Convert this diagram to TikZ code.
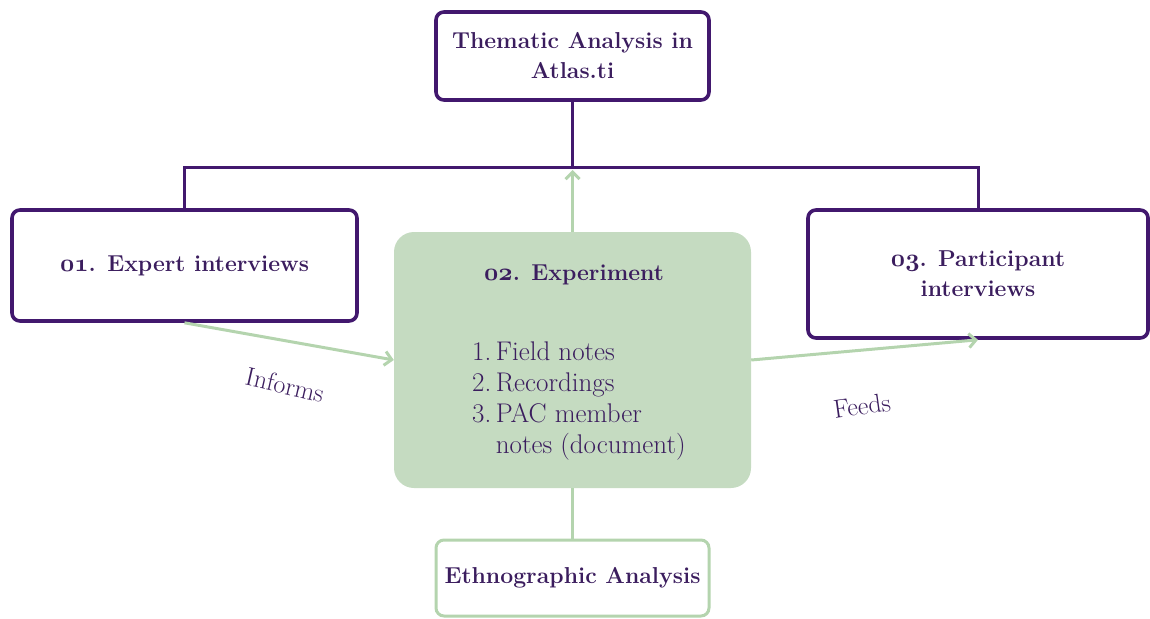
\documentclass[tikz,border=0pt]{standalone}
\usetikzlibrary{arrows.meta}
\definecolor{purp}{RGB}{66,24,110}
\definecolor{purptext}{RGB}{59,29,94}
\definecolor{sage}{RGB}{197,219,193}
\definecolor{sageline}{RGB}{180,212,174}
\newcommand{\bnum}[1]{{\boldmath$\mathnormal{#1}$}}
\begin{document}
\begin{tikzpicture}
[x=1pt,y=-1pt,%
  every node/.style={text=purptext,align=center,inner sep=0pt},%
  purplebox/.style={draw=purp,line width=3.6pt,rounded corners=8pt,fill=white},%
  linkline/.style={draw=purp,line width=3pt},%
  greenline/.style={draw=sageline,line width=3pt},%
  greenarrow/.style={greenline,-{Straight Barb[length=7pt,width=14pt]}},%
  headfont/.style={font=\fontsize{23}{30}\selectfont\bfseries},%
  bodyfont/.style={font=\fontsize{27}{31}\selectfont},%
  labelfont/.style={font=\fontsize{26}{28}\selectfont}]
\useasboundingbox (0,0) rectangle (1150,618);
% boxes
\node[purplebox,minimum width=273pt,minimum height=88pt,headfont] (atlas) at (572.5,56)
  {Thematic Analysis in\\Atlas.ti};
\node[purplebox,minimum width=345pt,minimum height=111pt,headfont] (expert) at (184.5,265.5)
  {\bnum{01}. Expert interviews};
\node[purplebox,minimum width=340pt,minimum height=128pt,headfont] (partic) at (978,274)
  {\bnum{03}. Participant\\interviews};
\node[fill=sage,rounded corners=20pt,minimum width=357pt,minimum height=256pt] (exper) at (572.5,360) {};
\node[headfont] (expertitle) at (574,275) {\bnum{02}. Experiment};
\node[bodyfont,align=left,anchor=north west] (experlist) at (472,342)
  {1.\,Field notes\\2.\,Recordings\\3.\,PAC member\\\phantom{3.\,}notes (document)};
\node[draw=sageline,line width=3pt,rounded corners=8pt,fill=white,minimum width=273pt,minimum height=76pt,headfont] (ethno) at (572.5,578)
  {Ethnographic Analysis};
% connectors
\coordinate (bar) at (572.5,167);
\draw[linkline] (atlas.south) -- (bar);
\draw[linkline] (expert.north) |- (bar) -| (partic.north);
\draw[greenarrow,shorten >=3pt] (exper.north) -- (bar);
\draw[greenline] (exper.south) -- (ethno.north);
\draw[greenarrow] (expert.south) -- (exper.west);
\draw[greenarrow] (exper.east) -- (partic.south);
\node[labelfont,rotate=-13] (informs) at (285,385) {Informs};
\node[labelfont,rotate=8] (feeds) at (862,406) {Feeds};
\end{tikzpicture}
\end{document}
